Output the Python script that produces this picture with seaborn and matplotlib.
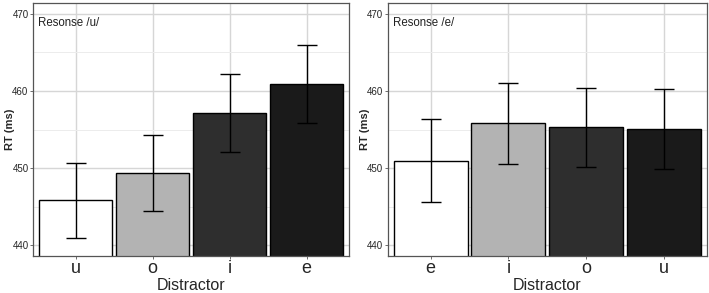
import matplotlib.pyplot as plt
import seaborn as sns
import pandas as pd
from matplotlib.ticker import MultipleLocator

# response /u/ panel
u_distractors = ["u", "o", "i", "e"]
u_rt = [445.9, 449.3, 457.2, 460.9]
u_low = [441.0, 444.4, 452.1, 455.9]
u_high = [450.7, 454.3, 462.2, 466.0]

# response /e/ panel
e_distractors = ["e", "i", "o", "u"]
e_rt = [450.9, 455.8, 455.3, 455.1]
e_low = [445.6, 450.5, 450.2, 449.9]
e_high = [456.3, 461.0, 460.4, 460.3]

bar_colors = ["#FFFFFF", "#B3B3B3", "#2E2E2E", "#1A1A1A"]

sns.set_theme(style="white")
plt.rcParams['font.family'] = ['Liberation Sans', 'DejaVu Sans']

fig = plt.figure(figsize=(7.09, 2.93), dpi=100)
ax1 = fig.add_axes([0.047, 0.126, 0.445, 0.864])
ax2 = fig.add_axes([0.547, 0.126, 0.450, 0.864])


def draw_panel(ax, cats, rt, low, high, label, label_x):
    df = pd.DataFrame({"Distractor": cats, "RT": rt})
    sns.barplot(data=df, x="Distractor", y="RT", hue="Distractor",
                palette=bar_colors, legend=False, width=0.95,
                edgecolor="black", linewidth=1.0, ax=ax, zorder=2)
    yerr = [[r - l for r, l in zip(rt, low)], [h - r for r, h in zip(rt, high)]]
    ax.errorbar(range(len(cats)), rt, yerr=yerr, fmt="none", ecolor="black",
                elinewidth=1.0, capsize=7.5, capthick=1.0, zorder=3)
    ax.set_ylim(438.6, 471.4)
    ax.set_xlim(-0.55, 3.55)
    ax.yaxis.set_major_locator(MultipleLocator(10))
    ax.yaxis.set_minor_locator(MultipleLocator(5))
    ax.grid(True, which="major", color="#D6D6D6", linewidth=1.0, zorder=0)
    ax.grid(True, which="minor", axis="y", color="#ECECEC", linewidth=0.7, zorder=0)
    ax.set_axisbelow(True)
    for s in ax.spines.values():
        s.set_color("#555555")
        s.set_linewidth(0.9)
    ax.tick_params(axis="y", labelsize=7, length=2.5, width=0.6, color="#555555",
                   pad=1, left=True)
    ax.tick_params(axis="x", labelsize=13, length=2.5, width=0.6, color="#555555",
                   pad=0, bottom=True)
    ax.tick_params(which="minor", length=0)
    ax.set_xlabel("Distractor", fontsize=11.5, labelpad=1)
    ax.set_ylabel("RT (ms)", fontsize=8, fontweight="bold")
    ax.yaxis.set_label_coords(label_x, 0.5)
    ax.text(0.015, 0.945, label, transform=ax.transAxes, fontsize=8.3,
            va="top", ha="left", color="#222222")


draw_panel(ax1, u_distractors, u_rt, u_low, u_high, "Resonse /u/", -0.058)
draw_panel(ax2, e_distractors, e_rt, e_low, e_high, "Resonse /e/", -0.056)

plt.savefig("out.png", dpi=100)
